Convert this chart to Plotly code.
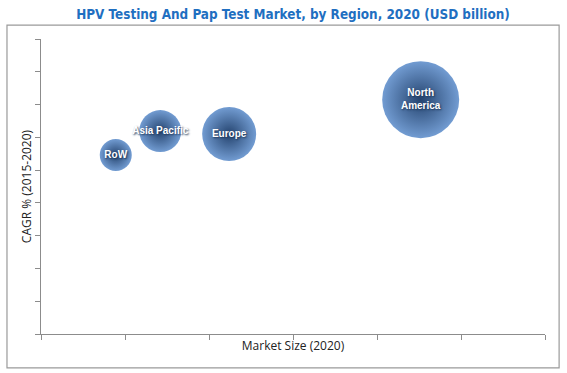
import plotly.graph_objects as go

regions = ["RoW", "Asia Pacific", "Europe", "North<br>America"]
market_size = [0.89, 1.42, 2.24, 4.52]
cagr = [5.46, 6.19, 6.10, 7.15]
bubble_value = [32, 42, 54, 77]

fig = go.Figure()
fig.add_trace(go.Scatter(
    x=market_size, y=cagr, mode="markers+text",
    text=regions, textposition="middle center",
    textfont=dict(family="Liberation Sans", size=10, color="white", weight="bold",
                  shadow="1px 1px 2px #1b3556"),
    marker=dict(size=bubble_value, sizemode="diameter", sizeref=1, opacity=1,
                color="#729cd2", line=dict(width=0),
                gradient=dict(type="radial", color="#25446f")),
    hoverinfo="skip", showlegend=False, cliponaxis=False,
))

axis_common = dict(showgrid=False, zeroline=False, showline=True, linecolor="#8c8c8c",
                   linewidth=1, ticks="outside", ticklen=5, tickcolor="#8c8c8c",
                   showticklabels=False, fixedrange=True)

fig.update_layout(
    width=567, height=373,
    margin=dict(l=41, r=22, t=39, b=39),
    paper_bgcolor="white", plot_bgcolor="white",
    title=dict(text="<b>HPV Testing And Pap Test Market, by Region, 2020 (USD billion)</b>",
               x=0.5, xref="paper", xanchor="center", y=0.962, yanchor="middle",
               font=dict(family="DejaVu Sans Condensed, Roboto, sans-serif", size=13.4,
                         color="#1f6fc1")),
    xaxis=dict(range=[0, 6], dtick=1, tick0=0,
               title=dict(text="Market Size (2020)", standoff=2,
                          font=dict(family="Open Sans", size=12, color="#222")),
               **axis_common),
    yaxis=dict(range=[0, 9], dtick=1, tick0=0,
               title=dict(text="CAGR % (2015-2020)", standoff=0,
                          font=dict(family="Open Sans", size=12, color="#222")),
               **axis_common),
    shapes=[dict(type="rect", xref="paper", yref="paper",
                 x0=-0.0675, x1=1.028, y0=-0.115, y1=1.047,
                 line=dict(color="#9a9a9a", width=1.2), fillcolor="rgba(0,0,0,0)",
                 layer="above")],
)

fig.write_html("out.html", config={"displayModeBar": False},
               post_script="document.body.style.margin='0';")
